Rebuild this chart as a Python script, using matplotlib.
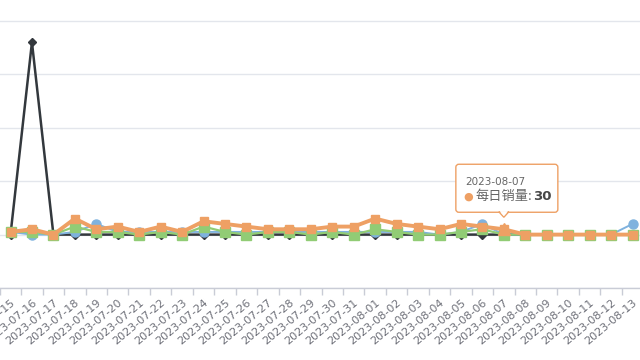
import matplotlib
matplotlib.use("Agg")
import matplotlib.pyplot as plt
import matplotlib.transforms as mtrans
from matplotlib.patches import FancyBboxPatch, Polygon
import numpy as np

plt.rcParams['font.family'] = ['Noto Sans CJK SC', 'DejaVu Sans']

dates = ["2023-07-15", "2023-07-16", "2023-07-17", "2023-07-18", "2023-07-19",
         "2023-07-20", "2023-07-21", "2023-07-22", "2023-07-23", "2023-07-24",
         "2023-07-25", "2023-07-26", "2023-07-27", "2023-07-28", "2023-07-29",
         "2023-07-30", "2023-07-31", "2023-08-01", "2023-08-02", "2023-08-03",
         "2023-08-04", "2023-08-05", "2023-08-06", "2023-08-07", "2023-08-08",
         "2023-08-09", "2023-08-10", "2023-08-11", "2023-08-12", "2023-08-13"]

dark_vals = [28, 100, 28, 28, 28, 28, 28, 28, 28, 28, 28, 28, 28, 28, 28,
             28, 28, 28, 28, 28, 28, 28, 28, 28, 28, 28, 28, 28, 28, 28]
blue_vals = [29, 28, 28, 29, 32, 29, 29, 29, 29, 29, 29, 29, 29, 29, 29,
             29, 29, 29, 29, 29, 28, 29, 32, 28, 28, 28, 28, 28, 28, 32]
green_vals = [29, 29, 28, 31, 29, 29, 28, 29, 28, 31, 29, 28, 29, 29, 28,
              29, 28, 30, 29, 28, 28, 29, 30, 28, 28, 28, 28, 28, 28, 28]
orange_vals = [29, 30, 28, 34, 30, 31, 29, 31, 29, 33, 32, 31, 30, 30, 30,
               31, 31, 34, 32, 31, 30, 32, 31, 30, 28, 28, 28, 28, 28, 28]

tip_index = 23
tip_label = "每日销量"

W, H = 640, 360
fig = plt.figure(figsize=(W / 100, H / 100), dpi=100)
step = 21.45
x0 = 10.5 - step / 2
ax = fig.add_axes([x0 / W, (H - 288) / H, 30 * step / W, 288 / H])

ppu = 53.4 / 20.0
ymin = 8
ax.set_ylim(ymin, ymin + 288 / ppu)
ax.set_xlim(-0.5, len(dates) - 0.5)

x = np.arange(len(dates))

ax.plot(x, dark_vals, color='#33383d', lw=1.8, marker='D', ms=4, zorder=3)
ax.plot(x, blue_vals, color='#7fb2de', lw=1.4, marker='o', ms=6.5, zorder=4)
ax.plot(x, green_vals, color='#91cc75', lw=1.6, marker='s', ms=6.5, zorder=5)
ax.plot(x, orange_vals, color='#eea064', lw=2.8, marker='s', ms=5.5, zorder=6)
ax.plot([x[tip_index]], [orange_vals[tip_index]], color='#eea064', marker='^',
        ms=9, ls='none', zorder=7)

ax.set_yticks(np.arange(ymin, 120, 20))
ax.yaxis.grid(True, color='#e3e6ec', lw=1)
ax.set_axisbelow(True)
ax.tick_params(axis='y', left=False, labelleft=False)
for s in ['top', 'right', 'left']:
    ax.spines[s].set_visible(False)
ax.spines['bottom'].set_color('#c9ccd6')
ax.spines['bottom'].set_linewidth(1)

ax.set_xticks(x)
ax.set_xticklabels(dates, rotation=40, ha='right', va='top',
                   rotation_mode='anchor', fontsize=8, color='#6e7079',
                   family='DejaVu Sans')
ax.tick_params(axis='x', which='major', length=0, pad=7)
ax.set_xticks(np.arange(-0.5, len(dates), 1), minor=True)
ax.tick_params(axis='x', which='minor', length=5, color='#c9ccd6', width=1)

# tooltip anchored to the highlighted point
base = ax.transData
def off(dx, dy):
    return base + mtrans.ScaledTranslation(dx / 100, -dy / 100 * -1, fig.dpi_scale_trans)

px, py = x[tip_index], orange_vals[tip_index]
box_t = off(0, 0)
box = FancyBboxPatch((0, 0), 1, 1, transform=None)
# compute pixel anchor
disp = ax.transData.transform((px, py))
bx0, by0 = disp[0] - 48, disp[1] + 17
box = FancyBboxPatch((bx0, by0), 102, 48, boxstyle="round,pad=0,rounding_size=3",
                     transform=None, facecolor='white', edgecolor='#eea064',
                     lw=1, zorder=20)
fig.patches.append(box)
tri = Polygon([[disp[0] - 5, by0 + 0.5], [disp[0] + 5, by0 + 0.5], [disp[0], by0 - 5]],
              closed=True, transform=None, facecolor='white', edgecolor='#eea064',
              lw=1, zorder=21)
fig.patches.append(tri)
tri2 = Polygon([[disp[0] - 4.2, by0 + 1.2], [disp[0] + 4.2, by0 + 1.2], [disp[0], by0 - 3.6]],
               closed=True, transform=None, facecolor='white', edgecolor='none', zorder=22)
fig.patches.append(tri2)

fig.text((disp[0] - 39) / W, (disp[1] + 47) / H, dates[tip_index], fontsize=7.5,
         color='#666666', va='center', ha='left', family='DejaVu Sans', zorder=30)
fig.text((disp[0] - 36) / W, (disp[1] + 33) / H, "●", fontsize=8,
         color='#eea064', va='center', ha='center', family='DejaVu Sans', zorder=30)
fig.text((disp[0] - 28) / W, (disp[1] + 33) / H, tip_label + ":", fontsize=9.5,
         color='#666666', va='center', ha='left', zorder=30)
fig.text((disp[0] + 29) / W, (disp[1] + 33) / H, str(orange_vals[tip_index]), fontsize=9.5,
         color='#464646', va='center', ha='left', fontweight='bold', family='DejaVu Sans', zorder=30)

fig.savefig("out.png", dpi=100)
